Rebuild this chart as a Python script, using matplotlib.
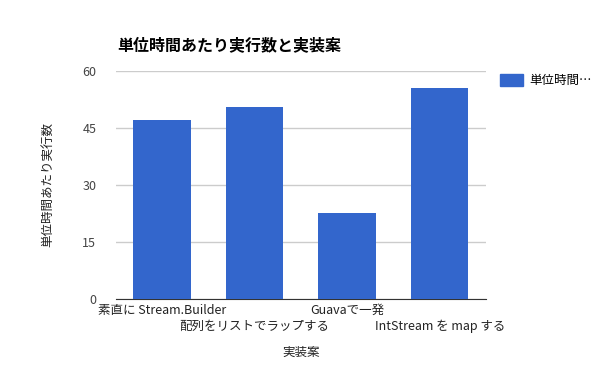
import matplotlib
matplotlib.use("Agg")
import matplotlib.pyplot as plt
import numpy as np

plt.rcParams['font.family'] = ['Noto Sans CJK JP', 'DejaVu Sans']

categories = ["素直に Stream.Builder", "配列をリストでラップする", "Guavaで一発", "IntStream を map する"]
values = [47.2, 50.4, 22.6, 55.4]
yticks = [0, 15, 30, 45, 60]
series_name = "単位時間…"

fig = plt.figure(figsize=(6, 3.71), dpi=100)
ax = fig.add_axes([0.193, 0.194, 0.617, 0.615])

x = np.arange(len(categories))
ax.bar(x, values, width=0.62, color="#3366cc", zorder=3)
ax.set_xlim(-0.5, len(categories) - 0.5)
ax.set_ylim(0, 60)
ax.set_yticks(yticks)
ax.set_yticklabels([str(t) for t in yticks], fontsize=9, color="#444444")
ax.tick_params(axis="y", length=0, pad=14)
ax.tick_params(axis="x", length=0)
ax.set_xticks(x)
ax.set_xticklabels([])
for i, lab in enumerate(categories):
    off = -0.02 if i % 2 == 0 else -0.09
    ax.text(i, off, lab, transform=ax.get_xaxis_transform(), ha="center", va="top",
            fontsize=9, color="#222222")

ax.grid(axis="y", color="#cccccc", linewidth=1, zorder=0)
for s in ["top", "right", "left"]:
    ax.spines[s].set_visible(False)
ax.spines["bottom"].set_color("#333333")

ax.set_xlabel("実装案", fontsize=9, style="italic", color="#222222", labelpad=30)
ax.set_ylabel("単位時間あたり実行数", fontsize=9, style="italic", color="#222222", labelpad=20)

fig.text(0.195, 0.878, "単位時間あたり実行数と実装案", fontsize=11.5, fontweight="bold", ha="left", va="center")

handle = plt.Rectangle((0, 0), 1, 1, color="#3366cc")
fig.legend([handle], [series_name], loc="upper left", bbox_to_anchor=(0.815, 0.83),
           frameon=False, fontsize=9, handlelength=1.8, handleheight=1.0, handletextpad=0.5)

fig.savefig("out.png", dpi=100)
